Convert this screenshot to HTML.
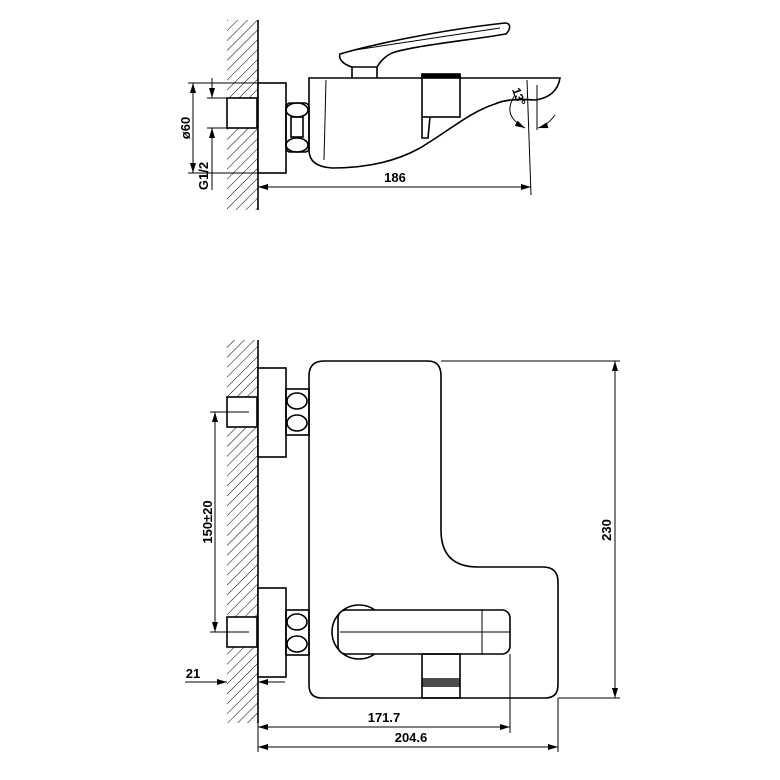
<!DOCTYPE html>
<html><head><style>html,body{margin:0;padding:0;background:#fff}svg{display:block}</style></head>
<body>
<svg width="780" height="780" viewBox="0 0 780 780" xmlns="http://www.w3.org/2000/svg" font-family="Liberation Sans, sans-serif">
<defs>
<pattern id="h" width="7" height="7" patternUnits="userSpaceOnUse" patternTransform="rotate(45)">
<line x1="0" y1="0" x2="0" y2="7" stroke="#000" stroke-width="1"/>
</pattern>
<marker id="a" markerWidth="10" markerHeight="6" refX="10" refY="3" orient="auto-start-reverse" markerUnits="userSpaceOnUse">
<path d="M0,0 L10,3 L0,6 Z" fill="#000"/>
</marker>
</defs>
<g stroke="#000" fill="none" stroke-width="1.6">
<!-- TOP VIEW -->
<rect x="227" y="20" width="31" height="190" fill="url(#h)" stroke="none"/>
<line x1="258" y1="20" x2="258" y2="210"/>
<rect x="227" y="98" width="30" height="30" fill="#fff"/>
<rect x="258" y="83" width="28" height="90" fill="#fff"/>
<rect x="286" y="103" width="23" height="49" rx="4"/>
<ellipse cx="297" cy="110" rx="11" ry="7"/>
<ellipse cx="297" cy="145" rx="11" ry="7"/>
<rect x="291" y="117" width="12" height="20"/>
<path d="M309,78 L560,78 C558,90 550,98 535,100 C520,99 505,99 495,104 C470,112 450,130 420,148 C395,162 365,168 332,168 C315,167 309,160 309,150 Z"/>
<line x1="326" y1="80" x2="324" y2="160" stroke-width="1"/>
<path d="M352,78 L352,67 L377,67 L377,78"/>
<path d="M352,67 C345,65 338,60 340,54 C370,45 440,30 505,23 C512,23 510,30 506,34 C470,40 420,45 395,52 C385,55 380,62 377,67"/>
<path d="M355,50 L500,28" stroke-width="1"/>
<rect x="422" y="75" width="38" height="42" fill="#fff"/>
<rect x="422" y="74" width="38" height="4" fill="#000"/>
<path d="M422,117 L422,138 L428,138 L430,117"/>
<line x1="527" y1="80" x2="531" y2="195" stroke-width="1"/>
<path d="M515,95 C505,110 510,120 525,128" stroke-width="1" marker-end="url(#a)"/>
<path d="M555,115 C550,122 545,126 538,128" stroke-width="1" marker-end="url(#a)"/>
<line x1="537" y1="85" x2="537" y2="130" stroke-width="1"/>
<!-- top dims -->
<g stroke-width="1">
<line x1="188" y1="83" x2="258" y2="83"/>
<line x1="188" y1="173" x2="258" y2="173"/>
<line x1="193" y1="83" x2="193" y2="173" marker-start="url(#a)" marker-end="url(#a)"/>
<line x1="207" y1="98" x2="227" y2="98"/>
<line x1="207" y1="128" x2="227" y2="128"/>
<line x1="212" y1="78" x2="212" y2="98" marker-end="url(#a)"/>
<line x1="212" y1="190" x2="212" y2="128" marker-end="url(#a)"/>
<line x1="258" y1="187" x2="531" y2="187" marker-start="url(#a)" marker-end="url(#a)"/>
</g>
<!-- BOTTOM VIEW -->
<rect x="227" y="340" width="31" height="383" fill="url(#h)" stroke="none"/>
<line x1="258" y1="340" x2="258" y2="723"/>
<rect x="227" y="397" width="30" height="30" fill="#fff"/>
<rect x="227" y="617" width="30" height="30" fill="#fff"/>
<rect x="258" y="368" width="28" height="89" fill="#fff"/>
<rect x="258" y="588" width="28" height="89" fill="#fff"/>
<rect x="286" y="389" width="23" height="46"/>
<ellipse cx="297" cy="401" rx="10" ry="8"/><ellipse cx="297" cy="423" rx="10" ry="8"/>
<rect x="286" y="610" width="23" height="45"/>
<ellipse cx="297" cy="622" rx="10" ry="8"/><ellipse cx="297" cy="644" rx="10" ry="8"/>
<path d="M324,361 L428,361 Q441,361 441,376 L441,530 Q441,567 478,567 L543,567 Q558,567 558,582 L558,685 Q558,698 545,698 L322,698 Q309,698 309,685 L309,376 Q309,361 324,361 Z"/>
<circle cx="359" cy="632" r="27"/>
<rect x="338" y="610" width="172" height="44" rx="8" fill="#fff"/>
<line x1="482" y1="610" x2="482" y2="654" stroke-width="1"/>
<line x1="340" y1="632" x2="510" y2="632" stroke-width="1"/>
<rect x="422" y="654" width="38" height="44"/>
<rect x="422" y="678" width="38" height="9" fill="#000" stroke="none" opacity="0.7"/>
<g stroke-width="1">
<line x1="210" y1="412" x2="249" y2="412"/>
<line x1="210" y1="632" x2="249" y2="632"/>
<line x1="215" y1="412" x2="215" y2="632" marker-start="url(#a)" marker-end="url(#a)"/>
<line x1="441" y1="361" x2="620" y2="361"/>
<line x1="558" y1="698" x2="620" y2="698"/>
<line x1="615" y1="361" x2="615" y2="698" marker-start="url(#a)" marker-end="url(#a)"/>
<line x1="510" y1="654" x2="510" y2="733"/>
<line x1="558" y1="698" x2="558" y2="752"/>
<line x1="258" y1="723" x2="258" y2="752"/>
<line x1="258" y1="727" x2="510" y2="727" marker-start="url(#a)" marker-end="url(#a)"/>
<line x1="258" y1="747" x2="558" y2="747" marker-start="url(#a)" marker-end="url(#a)"/>
<line x1="185" y1="682" x2="227" y2="682" marker-end="url(#a)"/>
<line x1="285" y1="682" x2="258" y2="682" marker-end="url(#a)"/>
</g>
</g>
<g font-size="13" font-weight="bold" fill="#000">
<text x="395" y="182" text-anchor="middle">186</text>
<text transform="translate(190,128) rotate(-90)" text-anchor="middle">ø60</text>
<text transform="translate(208,176) rotate(-90)" text-anchor="middle">G1/2</text>
<text transform="translate(515,98) rotate(70)" text-anchor="middle" font-size="12">13°</text>
<text transform="translate(212,522) rotate(-90)" text-anchor="middle">150±20</text>
<text transform="translate(611,530) rotate(-90)" text-anchor="middle">230</text>
<text x="384" y="722" text-anchor="middle">171.7</text>
<text x="411" y="742" text-anchor="middle">204.6</text>
<text x="193" y="678" text-anchor="middle">21</text>
</g>
</svg>
</body></html>
